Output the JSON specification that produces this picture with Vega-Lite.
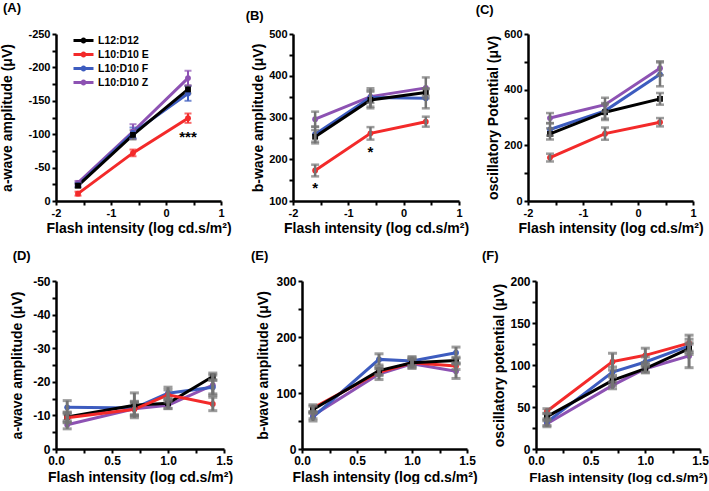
{
  "$schema": "https://vega.github.io/schema/vega-lite/v6.json",
  "padding": {"left": 0, "top": 2, "right": 0, "bottom": 0},
  "background": "white",
  "datasets": {
    "erg": [
      {"panel": "A", "group": "L10:D10 Z", "x": -1.6, "y": -27, "err": 3},
      {"panel": "A", "group": "L10:D10 Z", "x": -0.6, "y": -104, "err": 11},
      {"panel": "A", "group": "L10:D10 Z", "x": 0.4, "y": -184, "err": 11},
      {"panel": "A", "group": "L10:D10 F", "x": -1.6, "y": -24, "err": 3},
      {"panel": "A", "group": "L10:D10 F", "x": -0.6, "y": -102, "err": 8},
      {"panel": "A", "group": "L10:D10 F", "x": 0.4, "y": -161, "err": 11},
      {"panel": "A", "group": "L10:D10 E", "x": -1.6, "y": -11, "err": 3},
      {"panel": "A", "group": "L10:D10 E", "x": -0.6, "y": -72, "err": 5},
      {"panel": "A", "group": "L10:D10 E", "x": 0.4, "y": -124, "err": 7},
      {"panel": "A", "group": "L12:D12", "x": -1.6, "y": -23, "err": 3},
      {"panel": "A", "group": "L12:D12", "x": -0.6, "y": -99, "err": 7},
      {"panel": "A", "group": "L12:D12", "x": 0.4, "y": -167, "err": 6},

      {"panel": "B", "group": "L10:D10 Z", "x": -1.6, "y": 296, "err": 18},
      {"panel": "B", "group": "L10:D10 Z", "x": -0.6, "y": 350, "err": 15},
      {"panel": "B", "group": "L10:D10 Z", "x": 0.4, "y": 371, "err": 25},
      {"panel": "B", "group": "L10:D10 F", "x": -1.6, "y": 260, "err": 18},
      {"panel": "B", "group": "L10:D10 F", "x": -0.6, "y": 348, "err": 22},
      {"panel": "B", "group": "L10:D10 F", "x": 0.4, "y": 346, "err": 24},
      {"panel": "B", "group": "L10:D10 E", "x": -1.6, "y": 173, "err": 14},
      {"panel": "B", "group": "L10:D10 E", "x": -0.6, "y": 262, "err": 15},
      {"panel": "B", "group": "L10:D10 E", "x": 0.4, "y": 290, "err": 12},
      {"panel": "B", "group": "L12:D12", "x": -1.6, "y": 254, "err": 16},
      {"panel": "B", "group": "L12:D12", "x": -0.6, "y": 342, "err": 20},
      {"panel": "B", "group": "L12:D12", "x": 0.4, "y": 360, "err": 8},

      {"panel": "C", "group": "L10:D10 Z", "x": -1.6, "y": 298, "err": 18},
      {"panel": "C", "group": "L10:D10 Z", "x": -0.6, "y": 346, "err": 25},
      {"panel": "C", "group": "L10:D10 Z", "x": 0.4, "y": 477, "err": 25},
      {"panel": "C", "group": "L10:D10 F", "x": -1.6, "y": 257, "err": 22},
      {"panel": "C", "group": "L10:D10 F", "x": -0.6, "y": 324, "err": 28},
      {"panel": "C", "group": "L10:D10 F", "x": 0.4, "y": 455, "err": 43},
      {"panel": "C", "group": "L10:D10 E", "x": -1.6, "y": 156, "err": 14},
      {"panel": "C", "group": "L10:D10 E", "x": -0.6, "y": 242, "err": 22},
      {"panel": "C", "group": "L10:D10 E", "x": 0.4, "y": 283, "err": 15},
      {"panel": "C", "group": "L12:D12", "x": -1.6, "y": 241, "err": 20},
      {"panel": "C", "group": "L12:D12", "x": -0.6, "y": 319, "err": 28},
      {"panel": "C", "group": "L12:D12", "x": 0.4, "y": 367, "err": 21},

      {"panel": "D", "group": "L10:D10 Z", "x": 0.1, "y": -7.2, "err": 1.2},
      {"panel": "D", "group": "L10:D10 Z", "x": 0.7, "y": -12, "err": 2},
      {"panel": "D", "group": "L10:D10 Z", "x": 1.0, "y": -13, "err": 1},
      {"panel": "D", "group": "L10:D10 Z", "x": 1.4, "y": -19, "err": 3},
      {"panel": "D", "group": "L10:D10 F", "x": 0.1, "y": -12.4, "err": 2},
      {"panel": "D", "group": "L10:D10 F", "x": 0.7, "y": -12.2, "err": 2},
      {"panel": "D", "group": "L10:D10 F", "x": 1.0, "y": -16.6, "err": 1.8},
      {"panel": "D", "group": "L10:D10 F", "x": 1.4, "y": -18.4, "err": 2},
      {"panel": "D", "group": "L12:D12", "x": 0.1, "y": -9.5, "err": 1.5},
      {"panel": "D", "group": "L12:D12", "x": 0.7, "y": -13, "err": 3.7},
      {"panel": "D", "group": "L12:D12", "x": 1.0, "y": -13.6, "err": 1.5},
      {"panel": "D", "group": "L12:D12", "x": 1.4, "y": -21.6, "err": 1},
      {"panel": "D", "group": "L10:D10 E", "x": 0.1, "y": -9.3, "err": 1.5},
      {"panel": "D", "group": "L10:D10 E", "x": 0.7, "y": -11.8, "err": 2},
      {"panel": "D", "group": "L10:D10 E", "x": 1.0, "y": -16.1, "err": 1.5},
      {"panel": "D", "group": "L10:D10 E", "x": 1.4, "y": -13.4, "err": 2},

      {"panel": "E", "group": "L10:D10 Z", "x": 0.1, "y": 60, "err": 6},
      {"panel": "E", "group": "L10:D10 Z", "x": 0.7, "y": 134, "err": 10},
      {"panel": "E", "group": "L10:D10 Z", "x": 1.0, "y": 152, "err": 8},
      {"panel": "E", "group": "L10:D10 Z", "x": 1.4, "y": 139, "err": 13},
      {"panel": "E", "group": "L10:D10 F", "x": 0.1, "y": 57, "err": 7},
      {"panel": "E", "group": "L10:D10 F", "x": 0.7, "y": 160, "err": 10},
      {"panel": "E", "group": "L10:D10 F", "x": 1.0, "y": 157, "err": 8},
      {"panel": "E", "group": "L10:D10 F", "x": 1.4, "y": 172, "err": 10},
      {"panel": "E", "group": "L10:D10 E", "x": 0.1, "y": 73, "err": 6},
      {"panel": "E", "group": "L10:D10 E", "x": 0.7, "y": 137, "err": 6},
      {"panel": "E", "group": "L10:D10 E", "x": 1.0, "y": 154, "err": 6},
      {"panel": "E", "group": "L10:D10 E", "x": 1.4, "y": 148, "err": 6},
      {"panel": "E", "group": "L12:D12", "x": 0.1, "y": 70.5, "err": 6},
      {"panel": "E", "group": "L12:D12", "x": 0.7, "y": 140, "err": 7},
      {"panel": "E", "group": "L12:D12", "x": 1.0, "y": 154, "err": 9},
      {"panel": "E", "group": "L12:D12", "x": 1.4, "y": 158, "err": 6},

      {"panel": "F", "group": "L10:D10 Z", "x": 0.1, "y": 30, "err": 3.5},
      {"panel": "F", "group": "L10:D10 Z", "x": 0.7, "y": 75.7, "err": 4},
      {"panel": "F", "group": "L10:D10 Z", "x": 1.0, "y": 95.6, "err": 5},
      {"panel": "F", "group": "L10:D10 Z", "x": 1.4, "y": 110.8, "err": 14},
      {"panel": "F", "group": "L10:D10 F", "x": 0.1, "y": 32, "err": 4},
      {"panel": "F", "group": "L10:D10 F", "x": 0.7, "y": 91.6, "err": 6},
      {"panel": "F", "group": "L10:D10 F", "x": 1.0, "y": 103.6, "err": 6},
      {"panel": "F", "group": "L10:D10 F", "x": 1.4, "y": 122.7, "err": 8},
      {"panel": "F", "group": "L12:D12", "x": 0.1, "y": 38.6, "err": 4},
      {"panel": "F", "group": "L12:D12", "x": 0.7, "y": 81.7, "err": 6},
      {"panel": "F", "group": "L12:D12", "x": 1.0, "y": 95.6, "err": 4},
      {"panel": "F", "group": "L12:D12", "x": 1.4, "y": 119.5, "err": 7},
      {"panel": "F", "group": "L10:D10 E", "x": 0.1, "y": 45, "err": 3},
      {"panel": "F", "group": "L10:D10 E", "x": 0.7, "y": 104, "err": 10},
      {"panel": "F", "group": "L10:D10 E", "x": 1.0, "y": 111.5, "err": 8.5},
      {"panel": "F", "group": "L10:D10 E", "x": 1.4, "y": 126, "err": 9.5}
    ],
    "ann": [
      {"panel": "A", "x": 0.4, "y": -103, "label": "***"},
      {"panel": "B", "x": -1.6, "y": 143, "label": "*"},
      {"panel": "B", "x": -0.6, "y": 229, "label": "*"}
    ]
  },
  "vconcat": [
    {
      "bounds": "flush",
      "spacing": 72,
      "resolve": {"scale": {"color": "independent", "shape": "independent"}},
      "hconcat": [
        {
          "width": 165, "height": 167,
          "title": {"text": "(A)", "anchor": "start", "frame": "bounds", "offset": 13, "dx": 2},
          "data": {"name": "erg"},
          "transform": [{"filter": "datum.panel == 'A'"}],
          "encoding": {
            "x": {"field": "x", "type": "quantitative", "scale": {"domain": [-2, 1], "nice": false, "zero": false},
              "axis": {"values": [-2, -1.5, -1, -0.5, 0, 0.5, 1], "labelExpr": "datum.value % 1 == 0 ? toString(datum.value) : ''", "title": "Flash intensity (log cd.s/m²)", "labelFontSize": 11, "titleFontSize": 14, "titlePadding": 3}},
            "y": {"field": "y", "type": "quantitative", "scale": {"domain": [0, -250], "nice": false, "zero": false},
              "axis": {"values": [0, -25, -50, -75, -100, -125, -150, -175, -200, -225, -250], "labelExpr": "datum.value % 50 == 0 ? toString(datum.value) : ''", "title": "a-wave amplitude (μV)", "labelFontSize": 11, "titleFontSize": 14, "titlePadding": 13}}
          },
          "resolve": {"scale": {"color": "independent", "shape": "independent"}},
          "layer": [
            {
              "mark": {"type": "line", "strokeWidth": 3},
              "encoding": {
                "color": {"field": "group", "type": "nominal",
                  "scale": {"domain": ["L12:D12", "L10:D10 E", "L10:D10 F", "L10:D10 Z"], "range": ["#000000", "#f32a2a", "#3d5cbf", "#8d52b3"]},
                  "legend": {"title": null, "orient": "top-left", "offset": 0, "padding": 0, "symbolOffset": 21,
                    "symbolType": "M-2,0H2M-0.3,0A0.3,0.3,0,1,1,0.3,0A0.3,0.3,0,1,1,-0.3,0Z",
                    "symbolSize": 100, "symbolStrokeWidth": 3, "labelFontSize": 10.5, "labelFont": "Liberation Sans", "labelFontWeight": "bold", "labelColor": "black", "rowPadding": -2, "labelOffset": 8}}
              }
            },
            {
              "mark": {"type": "errorbar", "thickness": 2, "ticks": {"size": 7, "thickness": 2}},
              "encoding": {
                "yError": {"field": "err"},
                "color": {"field": "group", "type": "nominal",
                  "scale": {"domain": ["L12:D12", "L10:D10 E", "L10:D10 F", "L10:D10 Z"], "range": ["#6e6e6e", "#f32a2a", "#3d5cbf", "#8d52b3"]}, "legend": null}
              }
            },
            {
              "mark": {"type": "point", "filled": true, "opacity": 1, "size": 34},
              "encoding": {
                "color": {"field": "group", "type": "nominal",
                  "scale": {"domain": ["L12:D12", "L10:D10 E", "L10:D10 F", "L10:D10 Z"], "range": ["#000000", "#f32a2a", "#3d5cbf", "#8d52b3"]}, "legend": null},
                "shape": {"field": "group", "type": "nominal",
                  "scale": {"domain": ["L12:D12", "L10:D10 E", "L10:D10 F", "L10:D10 Z"], "range": ["square", "circle", "circle", "circle"]}, "legend": null}
              }
            },
            {
              "data": {"name": "ann"},
              "transform": [{"filter": "datum.panel == 'A'"}],
              "mark": {"type": "text", "font": "Liberation Sans", "fontWeight": "bold", "fontSize": 15, "baseline": "middle", "dy": 5, "color": "black"},
              "encoding": {"text": {"field": "label"}}
            }
          ]
        },
        {
          "bounds": "flush",
          "spacing": 69,
          "resolve": {"scale": {"color": "independent", "shape": "independent"}},
          "hconcat": [
            {
              "width": 166, "height": 167,
              "title": {"text": "(B)", "anchor": "start", "frame": "bounds", "offset": 5, "dx": -6},
              "data": {"name": "erg"},
              "transform": [{"filter": "datum.panel == 'B'"}],
              "encoding": {
                "x": {"field": "x", "type": "quantitative", "scale": {"domain": [-2, 1], "nice": false, "zero": false},
                  "axis": {"values": [-2, -1.5, -1, -0.5, 0, 0.5, 1], "labelExpr": "datum.value % 1 == 0 ? toString(datum.value) : ''", "title": "Flash intensity (log cd.s/m²)", "labelFontSize": 11, "titleFontSize": 14, "titlePadding": 3}},
                "y": {"field": "y", "type": "quantitative", "scale": {"domain": [100, 500], "nice": false, "zero": false},
                  "axis": {"values": [100, 150, 200, 250, 300, 350, 400, 450, 500], "labelExpr": "datum.value % 100 == 0 ? toString(datum.value) : ''", "title": "b-wave amplitude (μV)", "labelFontSize": 11, "titleFontSize": 14, "titlePadding": 3}}
              },
              "layer": [
                {"mark": {"type": "line", "strokeWidth": 3},
                  "encoding": {"color": {"field": "group", "type": "nominal", "scale": {"domain": ["L12:D12", "L10:D10 E", "L10:D10 F", "L10:D10 Z"], "range": ["#000000", "#f32a2a", "#3d5cbf", "#8d52b3"]}, "legend": null}}},
                {"mark": {"type": "point", "filled": true, "opacity": 1, "size": 34},
                  "encoding": {
                    "color": {"field": "group", "type": "nominal", "scale": {"domain": ["L12:D12", "L10:D10 E", "L10:D10 F", "L10:D10 Z"], "range": ["#000000", "#f32a2a", "#3d5cbf", "#8d52b3"]}, "legend": null},
                    "shape": {"field": "group", "type": "nominal", "scale": {"domain": ["L12:D12", "L10:D10 E", "L10:D10 F", "L10:D10 Z"], "range": ["square", "circle", "circle", "circle"]}, "legend": null}}},
                {"mark": {"type": "errorbar", "color": "#737373", "thickness": 2.5, "ticks": {"size": 8, "thickness": 2.5}},
                  "encoding": {"yError": {"field": "err"}}},
                {"data": {"name": "ann"}, "transform": [{"filter": "datum.panel == 'B'"}],
                  "mark": {"type": "text", "font": "Liberation Sans", "fontWeight": "bold", "fontSize": 15, "baseline": "middle", "dy": 5, "color": "black"},
                  "encoding": {"text": {"field": "label"}}}
              ]
            },
            {
              "width": 165, "height": 167,
              "title": {"text": "(C)", "anchor": "start", "frame": "bounds", "offset": 11, "dx": -11},
              "data": {"name": "erg"},
              "transform": [{"filter": "datum.panel == 'C'"}],
              "encoding": {
                "x": {"field": "x", "type": "quantitative", "scale": {"domain": [-2, 1], "nice": false, "zero": false},
                  "axis": {"values": [-2, -1.5, -1, -0.5, 0, 0.5, 1], "labelExpr": "datum.value % 1 == 0 ? toString(datum.value) : ''", "title": "Flash intensity (log cd.s/m²)", "labelFontSize": 11, "titleFontSize": 14, "titlePadding": 3}},
                "y": {"field": "y", "type": "quantitative", "scale": {"domain": [0, 600], "nice": false, "zero": false},
                  "axis": {"values": [0, 100, 200, 300, 400, 500, 600], "labelExpr": "datum.value % 200 == 0 ? toString(datum.value) : ''", "title": "oscillatory Potential (μV)", "labelFontSize": 11, "titleFontSize": 14, "titlePadding": 3}}
              },
              "layer": [
                {"mark": {"type": "line", "strokeWidth": 3},
                  "encoding": {"color": {"field": "group", "type": "nominal", "scale": {"domain": ["L12:D12", "L10:D10 E", "L10:D10 F", "L10:D10 Z"], "range": ["#000000", "#f32a2a", "#3d5cbf", "#8d52b3"]}, "legend": null}}},
                {"mark": {"type": "point", "filled": true, "opacity": 1, "size": 34},
                  "encoding": {
                    "color": {"field": "group", "type": "nominal", "scale": {"domain": ["L12:D12", "L10:D10 E", "L10:D10 F", "L10:D10 Z"], "range": ["#000000", "#f32a2a", "#3d5cbf", "#8d52b3"]}, "legend": null},
                    "shape": {"field": "group", "type": "nominal", "scale": {"domain": ["L12:D12", "L10:D10 E", "L10:D10 F", "L10:D10 Z"], "range": ["square", "circle", "circle", "circle"]}, "legend": null}}},
                {"mark": {"type": "errorbar", "color": "#737373", "thickness": 2.5, "ticks": {"size": 8, "thickness": 2.5}},
                  "encoding": {"yError": {"field": "err"}}}
              ]
            }
          ]
        }
      ]
    },
    {
      "bounds": "flush",
      "spacing": 78,
      "resolve": {"scale": {"color": "independent", "shape": "independent"}},
      "hconcat": [
        {
          "width": 168, "height": 168,
          "title": {"text": "(D)", "anchor": "start", "frame": "bounds", "offset": 12, "dx": 2},
          "data": {"name": "erg"},
          "transform": [{"filter": "datum.panel == 'D'"}],
          "encoding": {
            "x": {"field": "x", "type": "quantitative", "scale": {"domain": [0, 1.5], "nice": false, "zero": false},
              "axis": {"values": [0, 0.25, 0.5, 0.75, 1, 1.25, 1.5], "labelExpr": "datum.value % 0.5 == 0 ? format(datum.value, '.1f') : ''", "title": "Flash intensity (log cd.s/m²)", "labelFontSize": 12, "titleFontSize": 14, "titlePadding": 4}},
            "y": {"field": "y", "type": "quantitative", "scale": {"domain": [0, -50], "nice": false, "zero": false},
              "axis": {"values": [0, -5, -10, -15, -20, -25, -30, -35, -40, -45, -50], "labelExpr": "datum.value % 10 == 0 ? toString(datum.value) : ''", "title": "a-wave amplitude (μV)", "labelFontSize": 12, "titleFontSize": 14, "titlePadding": 8}}
          },
          "layer": [
            {"mark": {"type": "line", "strokeWidth": 3},
              "encoding": {"color": {"field": "group", "type": "nominal", "scale": {"domain": ["L12:D12", "L10:D10 E", "L10:D10 F", "L10:D10 Z"], "range": ["#000000", "#f32a2a", "#3d5cbf", "#8d52b3"]}, "legend": null}}},
            {"mark": {"type": "point", "filled": true, "opacity": 1, "size": 34},
              "encoding": {
                "color": {"field": "group", "type": "nominal", "scale": {"domain": ["L12:D12", "L10:D10 E", "L10:D10 F", "L10:D10 Z"], "range": ["#000000", "#f32a2a", "#3d5cbf", "#8d52b3"]}, "legend": null},
                "shape": {"field": "group", "type": "nominal", "scale": {"domain": ["L12:D12", "L10:D10 E", "L10:D10 F", "L10:D10 Z"], "range": ["square", "circle", "circle", "circle"]}, "legend": null}}},
            {"mark": {"type": "errorbar", "color": "#737373", "thickness": 3, "ticks": {"size": 9, "thickness": 3}},
              "encoding": {"yError": {"field": "err"}}}
          ]
        },
        {
          "bounds": "flush",
          "spacing": 69,
          "resolve": {"scale": {"color": "independent", "shape": "independent"}},
          "hconcat": [
            {
              "width": 165, "height": 168,
              "title": {"text": "(E)", "anchor": "start", "frame": "bounds", "offset": 12, "dx": -6},
              "data": {"name": "erg"},
              "transform": [{"filter": "datum.panel == 'E'"}],
              "encoding": {
                "x": {"field": "x", "type": "quantitative", "scale": {"domain": [0, 1.5], "nice": false, "zero": false},
                  "axis": {"values": [0, 0.25, 0.5, 0.75, 1, 1.25, 1.5], "labelExpr": "datum.value % 0.5 == 0 ? format(datum.value, '.1f') : ''", "title": "Flash intensity (log cd.s/m²)", "labelFontSize": 12, "titleFontSize": 14, "titlePadding": 4}},
                "y": {"field": "y", "type": "quantitative", "scale": {"domain": [0, 300], "nice": false, "zero": false},
                  "axis": {"values": [0, 50, 100, 150, 200, 250, 300], "labelExpr": "datum.value % 100 == 0 ? toString(datum.value) : ''", "title": "b-wave amplitude (μV)", "labelFontSize": 12, "titleFontSize": 14, "titlePadding": 5}}
              },
              "layer": [
                {"mark": {"type": "line", "strokeWidth": 3},
                  "encoding": {"color": {"field": "group", "type": "nominal", "scale": {"domain": ["L12:D12", "L10:D10 E", "L10:D10 F", "L10:D10 Z"], "range": ["#000000", "#f32a2a", "#3d5cbf", "#8d52b3"]}, "legend": null}}},
                {"mark": {"type": "point", "filled": true, "opacity": 1, "size": 34},
                  "encoding": {
                    "color": {"field": "group", "type": "nominal", "scale": {"domain": ["L12:D12", "L10:D10 E", "L10:D10 F", "L10:D10 Z"], "range": ["#000000", "#f32a2a", "#3d5cbf", "#8d52b3"]}, "legend": null},
                    "shape": {"field": "group", "type": "nominal", "scale": {"domain": ["L12:D12", "L10:D10 E", "L10:D10 F", "L10:D10 Z"], "range": ["square", "circle", "circle", "circle"]}, "legend": null}}},
                {"mark": {"type": "errorbar", "color": "#737373", "thickness": 3, "ticks": {"size": 9, "thickness": 3}},
                  "encoding": {"yError": {"field": "err"}}}
              ]
            },
            {
              "width": 164, "height": 168,
              "title": {"text": "(F)", "anchor": "start", "frame": "bounds", "offset": 12, "dx": -11},
              "data": {"name": "erg"},
              "transform": [{"filter": "datum.panel == 'F'"}],
              "encoding": {
                "x": {"field": "x", "type": "quantitative", "scale": {"domain": [0, 1.5], "nice": false, "zero": false},
                  "axis": {"values": [0, 0.25, 0.5, 0.75, 1, 1.25, 1.5], "labelExpr": "datum.value % 0.5 == 0 ? format(datum.value, '.1f') : ''", "title": "Flash intensity (log cd.s/m²)", "labelFontSize": 12, "titleFontSize": 13.5, "titlePadding": 4}},
                "y": {"field": "y", "type": "quantitative", "scale": {"domain": [0, 200], "nice": false, "zero": false},
                  "axis": {"values": [0, 25, 50, 75, 100, 125, 150, 175, 200], "labelExpr": "datum.value % 50 == 0 ? toString(datum.value) : ''", "title": "oscillatory potential (μV)", "labelFontSize": 12, "titleFontSize": 14, "titlePadding": 3}}
              },
              "layer": [
                {"mark": {"type": "line", "strokeWidth": 3},
                  "encoding": {"color": {"field": "group", "type": "nominal", "scale": {"domain": ["L12:D12", "L10:D10 E", "L10:D10 F", "L10:D10 Z"], "range": ["#000000", "#f32a2a", "#3d5cbf", "#8d52b3"]}, "legend": null}}},
                {"mark": {"type": "point", "filled": true, "opacity": 1, "size": 34},
                  "encoding": {
                    "color": {"field": "group", "type": "nominal", "scale": {"domain": ["L12:D12", "L10:D10 E", "L10:D10 F", "L10:D10 Z"], "range": ["#000000", "#f32a2a", "#3d5cbf", "#8d52b3"]}, "legend": null},
                    "shape": {"field": "group", "type": "nominal", "scale": {"domain": ["L12:D12", "L10:D10 E", "L10:D10 F", "L10:D10 Z"], "range": ["square", "circle", "circle", "circle"]}, "legend": null}}},
                {"mark": {"type": "errorbar", "color": "#737373", "thickness": 3, "ticks": {"size": 9, "thickness": 3}},
                  "encoding": {"yError": {"field": "err"}}}
              ]
            }
          ]
        }
      ]
    }
  ],
  "spacing": 15,
  "resolve": {"scale": {"color": "independent", "shape": "independent"}},
  "config": {
    "font": "Liberation Sans",
    "view": {"stroke": null},
    "title": {"font": "Liberation Sans", "fontWeight": "bold", "fontSize": 13, "color": "black"},
    "axis": {
      "grid": false,
      "domainColor": "black", "domainWidth": 2.5,
      "tickColor": "black", "tickWidth": 2, "tickSize": 4,
      "labelColor": "black", "labelFont": "Liberation Sans", "labelFontWeight": "bold", "labelPadding": 2,
      "labelOverlap": false, "labelFlush": false,
      "titleColor": "black", "titleFont": "Liberation Sans", "titleFontWeight": "bold"
    }
  }
}
